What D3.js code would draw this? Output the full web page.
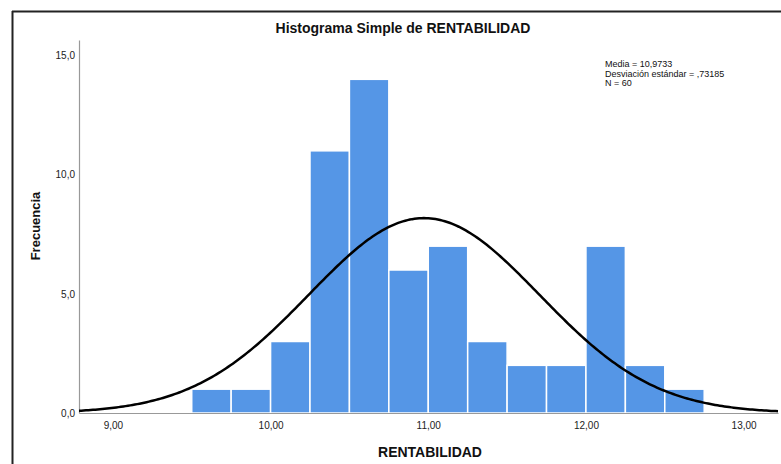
<!DOCTYPE html>
<html>
<head>
<meta charset="utf-8">
<script src="https://cdn.jsdelivr.net/npm/d3@7"></script>
<style>
  html, body { margin: 0; padding: 0; background: #fff; }
  svg { display: block; font-family: "Liberation Sans", Arial, sans-serif; }
</style>
</head>
<body>
<svg id="chart" width="781" height="464"></svg>
<script>
// Histogram bins of RENTABILIDAD (lower edge) and their counts
const binStarts = [9.50, 9.75, 10.00, 10.25, 10.50, 10.75, 11.00, 11.25, 11.50, 11.75, 12.00, 12.25, 12.50];
const binWidth = 0.25;
const counts = [1, 1, 3, 11, 14, 6, 7, 3, 2, 2, 7, 2, 1];

// Descriptive statistics
const mean = 10.9733;
const sd = 0.73185;
const n = 60;
const statsLines = ["Media = 10,9733", "Desviación estándar = ,73185", "N = 60"];

// Axis ticks
const xTicks = [9, 10, 11, 12, 13];
const yTicks = [0, 5, 10, 15];

(function draw() {
  const svg = d3.select("#chart");
  const W = 781, H = 464;

  // Plot area
  const plotLeft = 79, plotRight = 778, plotTop = 40, plotBottom = 413;

  const x = d3.scaleLinear().domain([8.785, 13.218]).range([plotLeft, plotRight]);
  const y = d3.scaleLinear().domain([0, 15.65]).range([plotBottom, plotTop]);

  const fmt = v => d3.format(".1f")(v).replace(".", ",");
  const fmtX = v => d3.format(".2f")(v).replace(".", ",");

  // Outer frame (left and top edges)
  svg.append("line").attr("x1", 12.5).attr("x2", 12.5).attr("y1", 11).attr("y2", H)
    .attr("stroke", "#222").attr("stroke-width", 2);
  svg.append("line").attr("x1", 12).attr("x2", W).attr("y1", 11.5).attr("y2", 11.5)
    .attr("stroke", "#222").attr("stroke-width", 2);

  // Title
  svg.append("text").attr("x", 403).attr("y", 33).attr("text-anchor", "middle")
    .attr("font-size", 14).attr("font-weight", "bold").attr("fill", "#111")
    .text("Histograma Simple de RENTABILIDAD");

  // Bars
  svg.append("g").selectAll("rect").data(counts).join("rect")
    .attr("x", (d, i) => x(binStarts[i]))
    .attr("width", (d, i) => x(binStarts[i] + binWidth) - x(binStarts[i]))
    .attr("y", d => y(d))
    .attr("height", d => y(0) - y(d))
    .attr("fill", "#5596e6")
    .attr("stroke", "#ffffff")
    .attr("stroke-width", 1.5);

  // Axes
  const yAxis = d3.axisLeft(y).tickValues(yTicks).tickFormat(fmt).tickSize(0).tickPadding(4);
  const gy = svg.append("g").attr("transform", `translate(${plotLeft},0)`).call(yAxis);
  gy.select(".domain").attr("stroke", "#999").attr("stroke-width", 1.2);
  gy.selectAll("text").attr("font-size", 10).attr("fill", "#222")
    .attr("font-family", "Liberation Sans, Arial, sans-serif");

  const xAxis = d3.axisBottom(x).tickValues(xTicks).tickFormat(fmtX).tickSize(0).tickPadding(9);
  const gx = svg.append("g").attr("transform", `translate(0,${plotBottom})`).call(xAxis);
  gx.select(".domain").attr("stroke", "#999").attr("stroke-width", 1.2);
  gx.selectAll("text").attr("font-size", 10).attr("fill", "#222")
    .attr("font-family", "Liberation Sans, Arial, sans-serif");

  // Normal curve scaled to counts: n * binWidth * pdf
  const pdf = v => Math.exp(-0.5 * ((v - mean) / sd) ** 2) / (sd * Math.sqrt(2 * Math.PI));
  const [d0, d1] = x.domain();
  const xs = d3.range(0, 301).map(i => d0 + (d1 - d0) * i / 300);
  svg.append("path")
    .datum(xs)
    .attr("fill", "none").attr("stroke", "#000").attr("stroke-width", 2.5)
    .attr("d", d3.line().x(v => x(v)).y(v => y(n * binWidth * pdf(v))));

  // Statistics box
  svg.append("g").selectAll("text").data(statsLines).join("text")
    .attr("x", 605).attr("y", (d, i) => 67 + i * 9.5)
    .attr("font-size", 9).attr("fill", "#111")
    .text(d => d);

  // Axis titles
  svg.append("text").attr("x", 430).attr("y", 457).attr("text-anchor", "middle")
    .attr("font-size", 14).attr("font-weight", "bold").attr("fill", "#111")
    .text("RENTABILIDAD");
  svg.append("text").attr("transform", "translate(40,226) rotate(-90)")
    .attr("text-anchor", "middle")
    .attr("font-size", 13).attr("font-weight", "bold").attr("fill", "#111")
    .text("Frecuencia");
})();
</script>
</body>
</html>
